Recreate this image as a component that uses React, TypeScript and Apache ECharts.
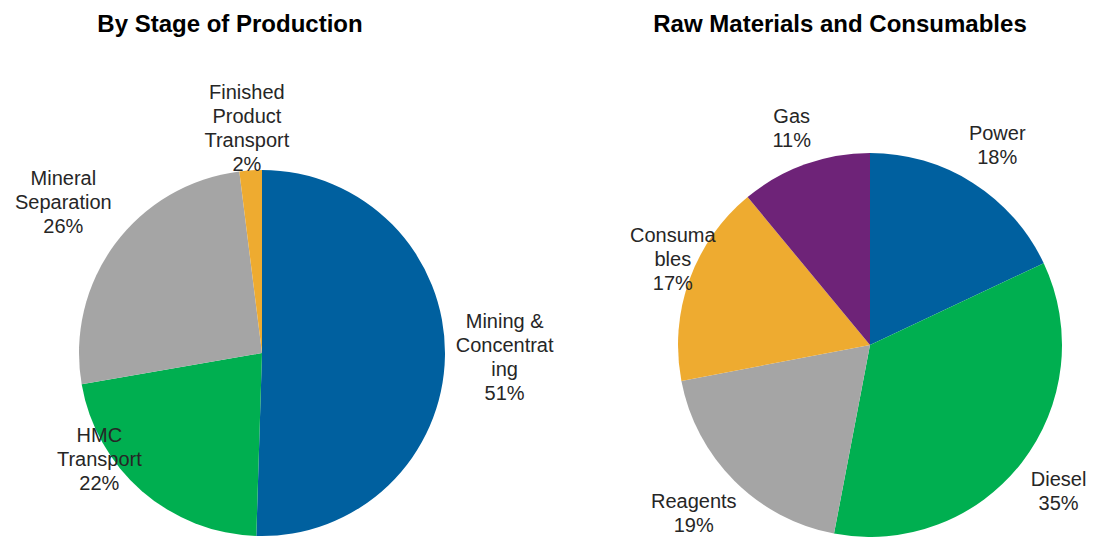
import React, { useEffect, useRef } from "react";
import * as echarts from "echarts";

const stageNames = ["Mining &\nConcentrat\ning", "HMC\nTransport", "Mineral\nSeparation", "Finished\nProduct\nTransport"];
const stageValues = [51, 22, 26, 2];
const stageColors = ["#00609F", "#00AF50", "#A5A5A5", "#EEAB30"];

const rawNames = ["Power", "Diesel", "Reagents", "Consuma\nbles", "Gas"];
const rawValues = [18, 35, 19, 17, 11];
const rawColors = ["#00609F", "#00AF50", "#A5A5A5", "#EEAB30", "#6E2378"];

const titles = ["By Stage of Production", "Raw Materials and Consumables"];

function makeLayout(values: number[], cx: number, r: number, cy: number, bounds: { minX: number; maxX: number; minY: number; maxY: number }) {
  const total = values.reduce((a, b) => a + b, 0);
  const mids: number[] = [];
  let cum = 0;
  values.forEach((v) => {
    mids.push(((cum + v / 2) / total) * Math.PI * 2);
    cum += v;
  });
  return (params: any) => {
    const a = mids[params.dataIndex];
    const ux = Math.sin(a);
    const uy = -Math.cos(a);
    const w = params.labelRect.width;
    const h = params.labelRect.height;
    const ext = Math.abs(ux) * w / 2 + Math.abs(uy) * h / 2;
    const d = r + 10 + ext;
    let x = cx + ux * d;
    let y = cy + uy * d;
    x = Math.max(bounds.minX + w / 2, Math.min(bounds.maxX - w / 2, x));
    y = Math.max(bounds.minY + h / 2, Math.min(bounds.maxY - h / 2, y));
    return { x, y, align: "center", verticalAlign: "middle" };
  };
}

export default function App() {
  const ref = useRef<HTMLDivElement>(null);
  useEffect(() => {
    document.body.style.margin = "0";
    const chart = echarts.init(ref.current!, null, { renderer: "svg" });
    const labelStyle = {
      show: true,
      position: "outside",
      fontFamily: "Liberation Sans",
      fontSize: 20,
      lineHeight: 24,
      color: "#262626",
    };
    const titleFont = 'bold 24px "Liberation Sans"';
    chart.setOption({
      animation: false,
      backgroundColor: "#ffffff",
      graphic: [
        { type: "text", x: 230, y: 23, style: { text: titles[0], font: titleFont, fill: "#000", align: "center", verticalAlign: "middle", textAlign: "center", textVerticalAlign: "middle" } },
        { type: "text", x: 840, y: 23, style: { text: titles[1], font: titleFont, fill: "#000", align: "center", verticalAlign: "middle", textAlign: "center", textVerticalAlign: "middle" } },
      ],
      series: [
        {
          type: "pie",
          center: [262, 353],
          radius: 183,
          startAngle: 90,
          clockwise: true,
          avoidLabelOverlap: false,
          emphasis: { disabled: true },
          label: { ...labelStyle, formatter: (p: any) => `${p.name}\n${p.value}%` },
          labelLine: { show: false },
          labelLayout: makeLayout(stageValues, 262, 183, 353, { minX: 15, maxX: 580, minY: 80, maxY: 495 }),
          data: stageNames.map((n, i) => ({ name: n, value: stageValues[i], itemStyle: { color: stageColors[i] } })),
        },
        {
          type: "pie",
          center: [870, 345],
          radius: 192,
          startAngle: 90,
          clockwise: true,
          avoidLabelOverlap: false,
          emphasis: { disabled: true },
          label: { ...labelStyle, formatter: (p: any) => `${p.name}\n${p.value}%` },
          labelLine: { show: false },
          labelLayout: makeLayout(rawValues, 870, 192, 345, { minX: 630, maxX: 1095, minY: 80, maxY: 537 }),
          data: rawNames.map((n, i) => ({ name: n, value: rawValues[i], itemStyle: { color: rawColors[i] } })),
        },
      ],
    });
    return () => chart.dispose();
  }, []);
  return <div ref={ref} style={{ width: 1097, height: 537 }} />;
}
